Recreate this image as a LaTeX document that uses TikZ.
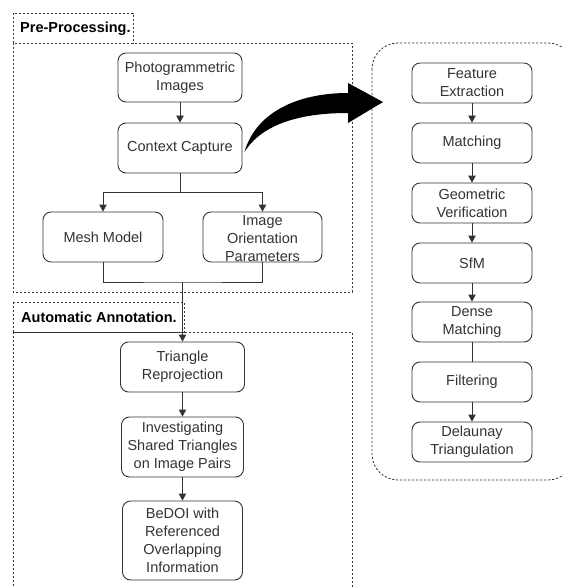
\documentclass[tikz,border=0pt]{standalone}
\usepackage{fontspec}
\setmainfont{Liberation Sans}
\usetikzlibrary{arrows.meta,calc}
\definecolor{ink}{HTML}{333333}
\tikzset{
  box/.style={draw=ink, line width=0.9pt, rounded corners=8pt, inner sep=0pt, align=center,
    text=ink, font=\fontsize{14.5}{18}\selectfont},
  conn/.style={draw=ink, line width=0.9pt},
  arr/.style={conn, -{Triangle[length=7pt,width=7.5pt]}},
  dotbox/.style={draw=ink, line width=0.8pt, dash pattern=on 2.2pt off 1.8pt},
  grouplabel/.style={anchor=west, inner sep=0pt, text=black, font=\fontsize{14.5}{18}\selectfont\bfseries}
}
\begin{document}
\begin{tikzpicture}[x=1pt,y=-1pt]
\useasboundingbox (0,0) rectangle (563,588);
\clip (0,0) rectangle (563,588);
% group frames
\draw[dotbox] (13,13) rectangle (133,43);
\draw[dotbox] (13,43) rectangle (352,292);
\node[grouplabel] (plabel) at (20,29) {Pre-Processing.};
\draw[dotbox] (13,302) rectangle (184,332);
\draw[dotbox] (13,332) rectangle (352,600);
\node[grouplabel] (alabel) at (21,317) {Automatic Annotation.};
\draw[dotbox, rounded corners=26pt] (372,43) rectangle (574,480);
% left column
\node[box, minimum width=124pt, minimum height=49pt] (photo) at (180,77.5) {Photogrammetric\\Images};
\node[box, minimum width=124pt, minimum height=50pt] (ctx) at (180,148) {Context Capture};
\node[box, minimum width=120pt, minimum height=50pt] (mesh) at (103,237) {Mesh Model};
\node[box, minimum width=119pt, minimum height=50pt] (iop) at (262.5,237) {};
\node[box, draw=none, fill=none] (iopt) at (262.5,238.5) {Image\\Orientation\\Parameters};
\node[box, minimum width=124pt, minimum height=50pt] (tri) at (182.5,367) {Triangle\\Reprojection};
\node[box, minimum width=122pt, minimum height=60pt] (inv) at (182.5,447) {Investigating\\Shared Triangles\\on Image Pairs};
\node[box, minimum width=120pt, minimum height=79pt] (bedoi) at (182.5,540.5) {BeDOI with\\Referenced\\Overlapping\\Information};
% right column
\foreach \n/\y/\t in {fe/83/{Feature\\Extraction}, ma/143/{Matching}, gv/203/{Geometric\\Verification},
  sfm/263/{SfM}, dm/322/{Dense\\Matching}, fi/382/{Filtering}, dt/442/{Delaunay\\Triangulation}}
  \node[box, minimum width=120pt, minimum height=40pt] (\n) at (472,\y) {\t};
% connectors left
\draw[arr] (photo) -- (ctx);
\coordinate (split) at (180,192);
\draw[conn] (ctx.south) -- (split);
\draw[arr] (split) -| (mesh.north);
\draw[arr] (split) -| (iop.north);
\coordinate (join) at (182.5,282);
\draw[conn] (mesh.south) |- (join) -| (iop.south);
\draw[arr] (join) -- (tri.north);
\draw[arr] (tri) -- (inv);
\draw[arr] (inv) -- (bedoi);
% connectors right
\draw[arr] (fe) -- (ma);
\draw[arr] (ma) -- (gv);
\draw[arr] (gv) -- (sfm);
\draw[arr] (sfm) -- (dm);
\draw[conn] (dm) -- (fi);
\draw[arr] (fi) -- (dt);
% big curved arrow
\coordinate (bstart) at ($(ctx.east)+(2,4)$);
\fill[black] (bstart) .. controls (256,112) and (298,93) .. (348,93)
  -- (348,83) -- (383,102) -- (348,123) -- (348,113)
  .. controls (300,113) and (262,124) .. (bstart) -- cycle;
\end{tikzpicture}
\end{document}
